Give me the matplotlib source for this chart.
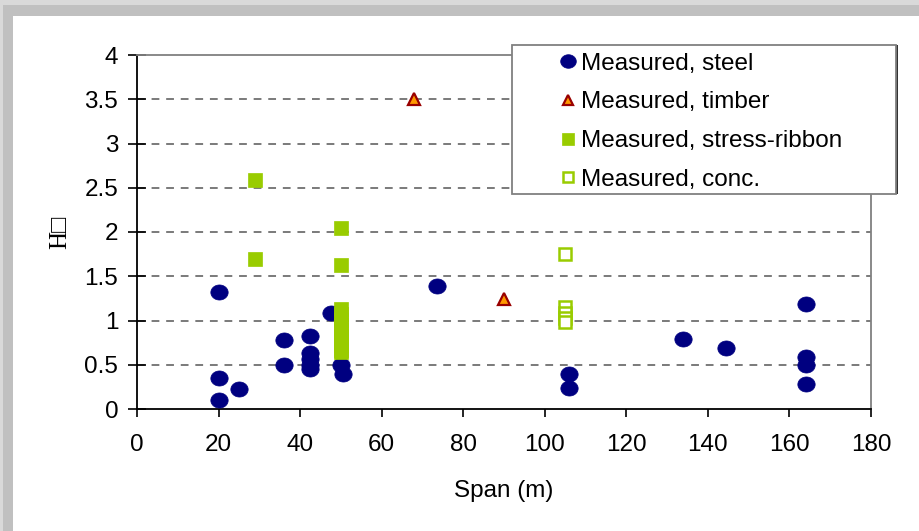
import numpy as np
import matplotlib
matplotlib.use('Agg')
import matplotlib.pyplot as plt
from matplotlib.path import Path
from matplotlib.patches import Rectangle

plt.rcParams['font.family'] = ['Liberation Sans', 'DejaVu Sans']

# ── Data ─────────────────────────────────────────────────────────────────────
steel_x = [20, 20, 20, 25, 36, 36, 42.5, 42.5, 42.5, 42.5, 42.5, 47.5, 50, 50.5,
           73.5, 106, 106, 134, 144.5, 164, 164, 164, 164]
steel_y = [1.32, 0.35, 0.10, 0.23, 0.78, 0.50, 0.82, 0.63, 0.57, 0.50, 0.45, 1.08, 0.50, 0.40,
           1.39, 0.39, 0.24, 0.79, 0.69, 1.19, 0.59, 0.50, 0.28]

timber_x = [68, 90]
timber_y = [3.50, 1.24]

ribbon_x = [29, 29, 50, 50, 50, 50, 50, 50, 50, 50, 50, 50, 50, 50]
ribbon_y = [2.59, 1.70, 2.05, 1.63, 1.13, 1.07, 1.01, 0.95, 0.89, 0.83, 0.78, 0.72, 0.67, 0.64]

conc_x = [105, 105, 105, 105, 105]
conc_y = [1.75, 1.15, 1.09, 1.03, 0.98]

labels = ['Measured, steel', 'Measured, timber',
          'Measured, stress-ribbon', 'Measured, conc.']

x_ticks = list(range(0, 181, 20))
y_ticks = [0, 0.5, 1, 1.5, 2, 2.5, 3, 3.5, 4]
y_tick_labels = ['0', '0.5', '1', '1.5', '2', '2.5', '3', '3.5', '4']

NAVY = '#000080'
GREEN = '#99CC00'

# slightly wide ellipse, like the Excel round marker
t = np.linspace(0, 2 * np.pi, 41)
ellipse = Path(np.column_stack([1.15 * np.cos(t), np.sin(t)]), closed=True)

# ── Figure ───────────────────────────────────────────────────────────────────
W, H = 919, 531
fig = plt.figure(figsize=(W / 100, H / 100), dpi=100)
fig.patch.set_facecolor('white')

# grey frame strips on top/left
fig.patches.append(Rectangle((0, 1 - 16 / H), 1, 16 / H, transform=fig.transFigure,
                             facecolor='#c0c0c0', edgecolor='none', zorder=0))
fig.patches.append(Rectangle((0, 0), 13 / W, 1, transform=fig.transFigure,
                             facecolor='#c0c0c0', edgecolor='none', zorder=0))
fig.patches.append(Rectangle((0, 1 - 5 / H), 1, 5 / H, transform=fig.transFigure,
                             facecolor='#d9d9d9', edgecolor='none', zorder=0))
fig.patches.append(Rectangle((0, 0), 3 / W, 1, transform=fig.transFigure,
                             facecolor='#d9d9d9', edgecolor='none', zorder=0))

ax = fig.add_axes([137 / W, 1 - 409 / H, 734 / W, 354 / H])
ax.set_facecolor('white')

for yv in y_ticks[1:-1]:
    ax.axhline(yv, color='#7a7a7a', lw=1.4, dashes=(4, 3.5), zorder=1)

ax.plot(steel_x, steel_y, ls='none', marker=ellipse, ms=12.5, mfc=NAVY, mec=NAVY,
        mew=0.5, zorder=3, label=labels[0])
ax.plot(timber_x, timber_y, ls='none', marker='^', ms=8.5, mfc='#FF9900', mec='#990000',
        mew=1.6, zorder=3, label=labels[1])
ax.plot(ribbon_x, ribbon_y, ls='none', marker='s', ms=9.5, mfc=GREEN, mec=GREEN,
        mew=0.5, zorder=3, label=labels[2])
ax.plot(conc_x, conc_y, ls='none', marker='s', ms=8.5, mfc='white', mec=GREEN,
        mew=1.8, zorder=3, label=labels[3])

ax.set_xlim(0, 180)
ax.set_ylim(0, 4)
ax.set_xticks(x_ticks)
ax.set_yticks(y_ticks)
ax.set_yticklabels(y_tick_labels)

ax.spines['left'].set_color('black')
ax.spines['bottom'].set_color('black')
ax.spines['top'].set_color('#808080')
ax.spines['right'].set_color('#808080')
for s in ax.spines.values():
    s.set_linewidth(1.3)

ax.tick_params(axis='x', direction='out', length=6, width=1.2, pad=12,
               labelsize=17.5, color='black')
ax.tick_params(axis='y', direction='inout', length=13, width=1.2, pad=7,
               labelsize=17.5, color='black')

ax.set_xlabel('Span (m)', fontsize=17.5, labelpad=17)
fig.text(60 / W, 1 - 232 / H, 'H\u25a1', rotation=90, ha='center', va='center',
         fontsize=18, family=['Liberation Serif', 'DejaVu Serif'])

# ── Legend box (sticks out past the plot, as in the original) ────────────────
lx0, ly0, lx1, ly1 = 512, 45, 896, 194
fig.patches.append(Rectangle((lx1 / W, 1 - ly1 / H), 2 / W, (ly1 - ly0) / H,
                             transform=fig.transFigure, facecolor='#333333',
                             edgecolor='none', zorder=4))
fig.patches.append(Rectangle((lx0 / W, 1 - ly1 / H), (lx1 - lx0) / W, (ly1 - ly0) / H,
                             transform=fig.transFigure, facecolor='white',
                             edgecolor='#808080', lw=1.3, zorder=5))

handles, labs = ax.get_legend_handles_labels()
leg = fig.legend(handles, labs, loc='upper left',
                 bbox_to_anchor=(551 / W, 1 - 44 / H), bbox_transform=fig.transFigure,
                 frameon=False, fontsize=17.5, handlelength=0.7, handletextpad=0.2,
                 labelspacing=0.69, borderpad=0.35, markerscale=0.9, borderaxespad=0)
leg.set_zorder(6)

fig.savefig('out.png', dpi=100)
